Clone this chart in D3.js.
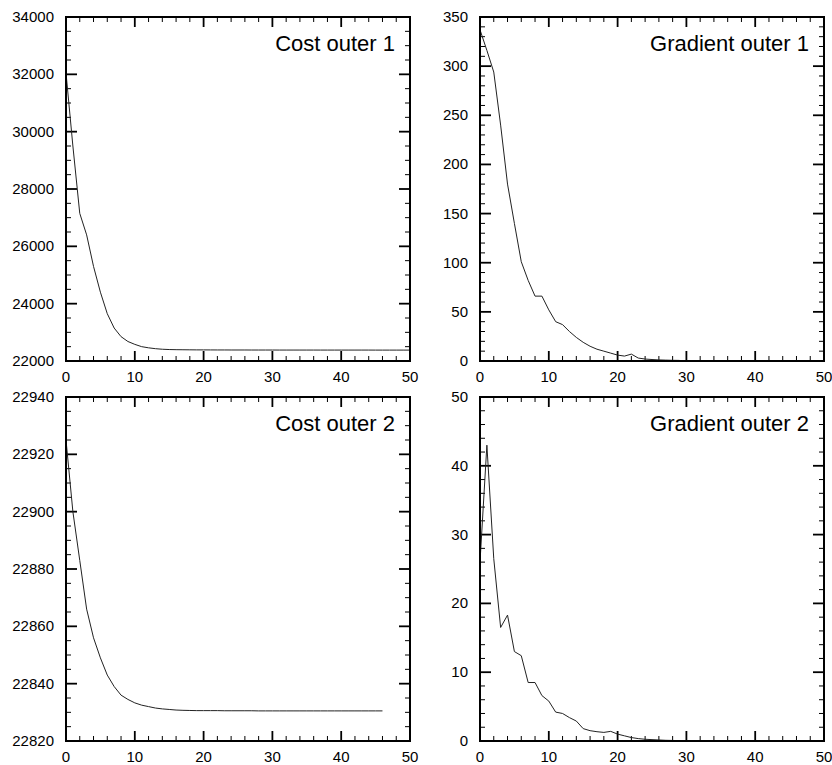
<!DOCTYPE html>
<html>
<head>
	<meta charset="utf-8" />
	<script src="https://cdn.jsdelivr.net/npm/d3@7/dist/d3.min.js"></script>
	<style>
		body { margin: 0; background: #fff; }
		.ticklabel { font-family: "Liberation Sans", Arial, Helvetica, sans-serif; font-size: 15px; fill: #000; }
		.title { font-family: "Liberation Sans", Arial, Helvetica, sans-serif; font-size: 22px; fill: #000; }
	</style>
</head>
<body>
	<script>
		// iteration numbers
		var iterCost1 = d3.range(0, 51);
		var iterGrad1 = d3.range(0, 30);
		var iterCost2 = d3.range(0, 47);
		var iterGrad2 = d3.range(0, 30);

		// cost function, outer loop 1
		var costOuter1 = [32050, 29500, 27150, 26400, 25300, 24400, 23650, 23150, 22850, 22680,
			22580, 22500, 22460, 22430, 22410, 22400, 22395, 22392, 22390, 22388,
			22387, 22386, 22385, 22385, 22384, 22384, 22384, 22383, 22383, 22383,
			22383, 22382, 22382, 22382, 22382, 22382, 22382, 22381, 22381, 22381,
			22381, 22381, 22381, 22381, 22381, 22380, 22380, 22380, 22380, 22380, 22380];

		// gradient norm, outer loop 1
		var gradOuter1 = [337, 316, 294, 240, 180, 140, 101, 82, 66, 66,
			52, 40, 37, 30, 24, 19, 15, 12, 10, 8,
			6, 5, 7, 3, 2, 1.5, 1.1, 0.9, 0.7, 0.6];

		// cost function, outer loop 2
		var costOuter2 = [22925, 22900, 22883, 22866, 22856, 22849, 22843, 22839, 22836, 22834.5,
			22833.3, 22832.5, 22832, 22831.5, 22831.2, 22831, 22830.8, 22830.7, 22830.65, 22830.6,
			22830.6, 22830.6, 22830.6, 22830.55, 22830.55, 22830.55, 22830.55, 22830.55, 22830.5, 22830.5,
			22830.5, 22830.5, 22830.5, 22830.5, 22830.5, 22830.5, 22830.5, 22830.5, 22830.5, 22830.5,
			22830.5, 22830.5, 22830.5, 22830.5, 22830.5, 22830.5, 22830.5];

		// gradient norm, outer loop 2
		var gradOuter2 = [26, 43, 26.5, 16.5, 18.3, 13, 12.4, 8.5, 8.5, 6.6,
			5.8, 4.2, 4.0, 3.4, 2.9, 1.8, 1.5, 1.35, 1.25, 1.4,
			1.0, 0.75, 0.5, 0.35, 0.25, 0.2, 0.15, 0.1, 0.08, 0.05];

		var panels = [
			{ title: "Cost outer 1", x: iterCost1, y: costOuter1, ymin: 22000, ymax: 34000, major: 2000, minor: 500, left: 66, top: 17 },
			{ title: "Gradient outer 1", x: iterGrad1, y: gradOuter1, ymin: 0, ymax: 350, major: 50, minor: 10, left: 480, top: 17 },
			{ title: "Cost outer 2", x: iterCost2, y: costOuter2, ymin: 22820, ymax: 22940, major: 20, minor: 5, left: 66, top: 397 },
			{ title: "Gradient outer 2", x: iterGrad2, y: gradOuter2, ymin: 0, ymax: 50, major: 10, minor: 2, left: 480, top: 397 }
		];

		var pw = 344, ph = 344;
		var width = 832, height = 765;

		var svg = d3.select("body")
			.append("svg")
			.attr("width", width)
			.attr("height", height);

		panels.forEach(function(p) {
			var g = svg.append("g")
				.attr("transform", "translate(" + p.left + "," + p.top + ")");

			var x = d3.scaleLinear().domain([0, 50]).range([0, pw]);
			var y = d3.scaleLinear().domain([p.ymin, p.ymax]).range([ph, 0]);

			var xMajor = d3.range(0, 51, 10);
			var xMinor = d3.range(0, 51, 2).filter(function(v) { return v % 10 != 0; });
			var yMajor = d3.range(p.ymin, p.ymax + 0.001, p.major);
			var yMinor = d3.range(p.ymin, p.ymax + 0.001, p.minor).filter(function(v) {
				return Math.abs((v - p.ymin) % p.major) > 1e-6;
			});

			// inward ticks on all four sides
			var tk = g.append("g").attr("stroke", "#000");
			function xticks(vals, len, sw) {
				vals.forEach(function(v) {
					tk.append("line").attr("x1", x(v)).attr("x2", x(v))
						.attr("y1", ph).attr("y2", ph - len).attr("stroke-width", sw);
					tk.append("line").attr("x1", x(v)).attr("x2", x(v))
						.attr("y1", 0).attr("y2", len).attr("stroke-width", sw);
				});
			}
			function yticks(vals, len, sw) {
				vals.forEach(function(v) {
					tk.append("line").attr("y1", y(v)).attr("y2", y(v))
						.attr("x1", 0).attr("x2", len).attr("stroke-width", sw);
					tk.append("line").attr("y1", y(v)).attr("y2", y(v))
						.attr("x1", pw).attr("x2", pw - len).attr("stroke-width", sw);
				});
			}
			xticks(xMajor, 10, 1.8);
			xticks(xMinor, 5, 1);
			yticks(yMajor, 11, 1.8);
			yticks(yMinor, 5, 1);

			// tick labels
			g.selectAll(".xlab")
				.data(xMajor)
				.enter().append("text")
				.attr("class", "ticklabel")
				.attr("x", function(d) { return x(d); })
				.attr("y", ph + 21)
				.attr("text-anchor", "middle")
				.text(function(d) { return d; });

			g.selectAll(".ylab")
				.data(yMajor)
				.enter().append("text")
				.attr("class", "ticklabel")
				.attr("x", -12)
				.attr("y", function(d) { return y(d) + 5; })
				.attr("text-anchor", "end")
				.text(function(d) { return d3.format("d")(d); });

			// data line
			var line = d3.line()
				.x(function(d) { return x(d[0]); })
				.y(function(d) { return y(d[1]); });

			g.append("path")
				.datum(d3.zip(p.x, p.y))
				.attr("fill", "none")
				.attr("stroke", "#222")
				.attr("stroke-width", 1)
				.attr("d", line);

			// frame
			g.append("rect")
				.attr("width", pw)
				.attr("height", ph)
				.attr("fill", "none")
				.attr("stroke", "#000")
				.attr("stroke-width", 2);

			g.append("text")
				.attr("class", "title")
				.attr("x", pw - 15)
				.attr("y", 34)
				.attr("text-anchor", "end")
				.text(p.title);
		});
	</script>
</body>
</html>
